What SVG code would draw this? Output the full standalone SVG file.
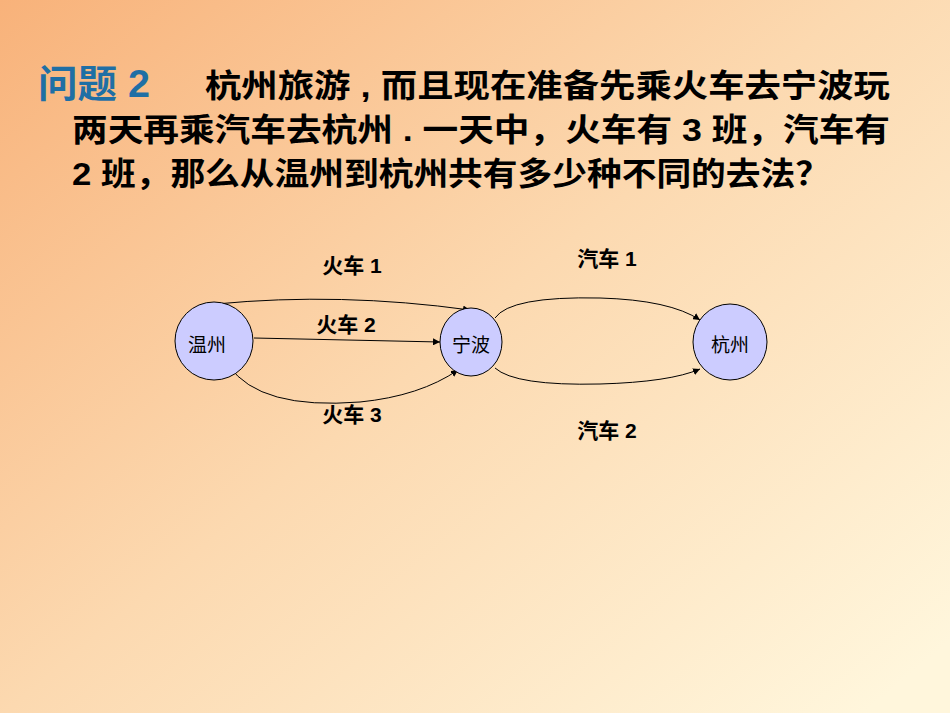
<svg xmlns="http://www.w3.org/2000/svg" width="950" height="713" viewBox="0 0 950 713">
<defs>
<linearGradient id="bg" x1="0" y1="0" x2="1" y2="0.9">
<stop offset="0" stop-color="#f8b27a"/>
<stop offset="0.5" stop-color="#fcd9b0"/>
<stop offset="1" stop-color="#fff6dc"/>
</linearGradient>
<marker id="ah" viewBox="0 0 10 10" refX="10" refY="5" markerWidth="7" markerHeight="7" orient="auto" markerUnits="userSpaceOnUse"><path d="M0,0 L10,5 L0,10 z" fill="#000"/></marker>
<style>
.t{font-family:"Liberation Sans","Noto Sans CJK SC",sans-serif;font-weight:bold;font-size:32px;fill:#000}
.n{fill:#ccccff;stroke:#000;stroke-width:1}
.nl{font-family:"Liberation Sans","Noto Sans CJK SC",sans-serif;font-size:19px;fill:#000;text-anchor:middle}
.el{font-family:"Liberation Sans","Noto Sans CJK SC",sans-serif;font-weight:bold;font-size:21px;fill:#000;text-anchor:middle}
.e{fill:none;stroke:#000;stroke-width:1;marker-end:url(#ah)}
</style>
</defs>
<rect width="950" height="713" fill="url(#bg)"/>
<text x="38" y="97" font-family="Liberation Sans,Noto Sans CJK SC,sans-serif" font-weight="bold" font-size="38" fill="#1f6fa5" textLength="112" lengthAdjust="spacingAndGlyphs">问题 2</text>
<text class="t" x="205" y="97" textLength="685" lengthAdjust="spacingAndGlyphs">杭州旅游 , 而且现在准备先乘火车去宁波玩</text>
<text class="t" x="72" y="141" textLength="818" lengthAdjust="spacingAndGlyphs">两天再乘汽车去杭州 . 一天中，火车有 3 班，汽车有</text>
<text class="t" x="72" y="185" textLength="758" lengthAdjust="spacingAndGlyphs">2 班，那么从温州到杭州共有多少种不同的去法？</text>
<g id="edges">
<path class="e" d="M216,304 Q340,292 470,310"/>
<path class="e" d="M254,338 L440,342"/>
<path class="e" d="M229,366 Q260,410 360,402 Q420,396 458,370"/>
<path class="e" d="M495,318 Q510,296 600,298 Q670,300 700,320"/>
<path class="e" d="M495,368 Q515,386 600,384 Q670,382 700,369"/>
</g>
<g id="wenzhou"><ellipse class="n" cx="214" cy="341" rx="39" ry="39"/><text class="nl" x="207" y="352">温州</text></g>
<g id="ningbo"><ellipse class="n" cx="471" cy="342" rx="31" ry="34"/><text class="nl" x="471" y="352">宁波</text></g>
<g id="hangzhou"><ellipse class="n" cx="730" cy="342" rx="37" ry="38"/><text class="nl" x="730" y="352">杭州</text></g>
<g id="labels">
<text class="el" x="352" y="273">火车 1</text>
<text class="el" x="346" y="332">火车 2</text>
<text class="el" x="352" y="422">火车 3</text>
<text class="el" x="607" y="266">汽车 1</text>
<text class="el" x="607" y="438">汽车 2</text>
</g>
</svg>
